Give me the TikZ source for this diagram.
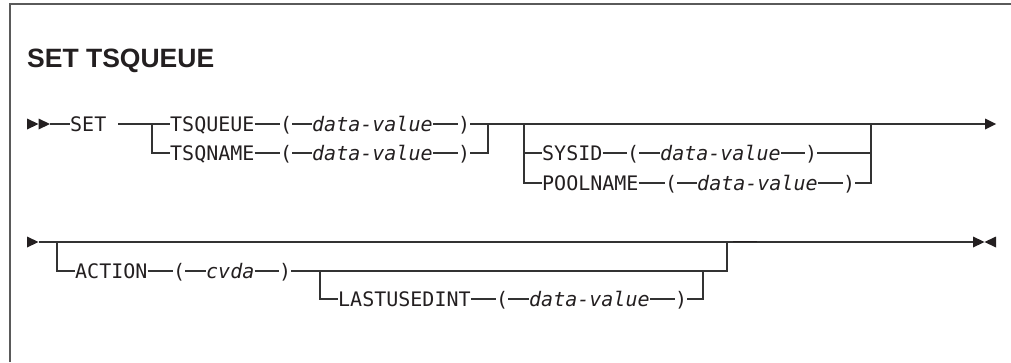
\documentclass[tikz,border=0pt]{standalone}
\usepackage{fontspec}
\setmainfont{Liberation Sans}
\newfontfamily\diagfont{DejaVu Sans Mono}
\definecolor{linecol}{HTML}{333333}
\definecolor{framecol}{HTML}{5A5A5A}
\definecolor{txtcol}{HTML}{231F20}
\begin{document}
\begin{tikzpicture}[x=1pt,y=-1pt,
  kw/.style={inner sep=0pt, anchor=west, text=txtcol,
    font=\diagfont\fontsize{20}{21}\selectfont, text height=14.6pt, text depth=0pt},
  var/.style={kw, font=\diagfont\itshape\fontsize{20}{21}\selectfont},
  ln/.style={draw=linecol, line width=1.2pt},
  tip/.style={fill=txtcol},
  titlestyle/.style={inner sep=0pt, anchor=base west, text=txtcol,
    font=\bfseries\fontsize{26.5}{29}\selectfont}]
\useasboundingbox (0,0) rectangle (1011,362);
% frame
\draw[framecol, line width=2pt] (10,362) -- (10,4) -- (1011,4);
% title
\node[titlestyle] (title) at (27,67) {SET TSQUEUE};

% ---------- row A ----------
\coordinate (a0) at (50,124);
\fill[tip] (27,118.5) -- (38.5,124) -- (27,129.5) -- cycle;
\fill[tip] (38.5,118.5) -- (50,124) -- (38.5,129.5) -- cycle;
\node[kw] (set) at (70,124) {SET};
\coordinate (a1) at (118,124);
\coordinate (b1) at (152,124);
\coordinate (b1d) at (152,153);
\node[kw] (tsq) at (170,124) {TSQUEUE};
\node[kw] (lp1) at (280,124) {(};
\node[var] (dv1) at (312,124) {data-value};
\node[kw] (rp1) at (458,124) {)};
\node[kw] (tsn) at (170,153) {TSQNAME};
\node[kw] (lp2) at (280,153) {(};
\node[var] (dv2) at (312,153) {data-value};
\node[kw] (rp2) at (458,153) {)};
\coordinate (j1) at (488,124);
\coordinate (j1d) at (488,153);
\coordinate (b2) at (524,124);
\coordinate (b2d) at (524,183);
\node[kw] (sys) at (542,153) {SYSID};
\node[kw] (lp3) at (627,153) {(};
\node[var] (dv3) at (660,153) {data-value};
\node[kw] (rp3) at (805,153) {)};
\node[kw] (pool) at (542,183) {POOLNAME};
\node[kw] (lp4) at (665,183) {(};
\node[var] (dv4) at (697,183) {data-value};
\node[kw] (rp4) at (843,183) {)};
\coordinate (j2) at (871,124);
\coordinate (j2s) at (871,153);
\coordinate (j2d) at (871,183);
\coordinate (endA) at (985,124);
\fill[tip] (985,118.5) -- (996,124) -- (985,129.5) -- cycle;

\draw[ln] (a0) -- (set.west);
\draw[ln] (a1) -- (b1) -- (tsq.west);
\draw[ln] (b1) -- (b1d) -- (tsn.west);
\draw[ln] (tsq.east) -- (lp1.west);
\draw[ln] (lp1.east) -- (dv1.west);
\draw[ln] (dv1.east) -- (rp1.west);
\draw[ln] (rp1.east) -- (j1);
\draw[ln] (tsn.east) -- (lp2.west);
\draw[ln] (lp2.east) -- (dv2.west);
\draw[ln] (dv2.east) -- (rp2.west);
\draw[ln] (rp2.east) -- (j1d) -- (j1);
\draw[ln] (j1) -- (endA);
\draw[ln] (b2) -- (b2d) -- (pool.west);
\draw[ln] (sys.west -| b2) -- (sys.west);
\draw[ln] (sys.east) -- (lp3.west);
\draw[ln] (lp3.east) -- (dv3.west);
\draw[ln] (dv3.east) -- (rp3.west);
\draw[ln] (rp3.east) -- (j2s);
\draw[ln] (pool.east) -- (lp4.west);
\draw[ln] (lp4.east) -- (dv4.west);
\draw[ln] (dv4.east) -- (rp4.west);
\draw[ln] (rp4.east) -- (j2d) -- (j2);

% ---------- row B ----------
\fill[tip] (27,236.5) -- (38.5,242) -- (27,247.5) -- cycle;
\coordinate (c0) at (38.5,242);
\coordinate (c1) at (57,242);
\coordinate (c1d) at (57,271);
\node[kw] (act) at (75,271) {ACTION};
\node[kw] (lp5) at (173,271) {(};
\node[var] (cv) at (206,271) {cvda};
\node[kw] (rp5) at (279,271) {)};
\coordinate (c2) at (320,271);
\coordinate (c2d) at (320,299);
\node[kw] (last) at (338,299) {LASTUSEDINT};
\node[kw] (lp6) at (496,299) {(};
\node[var] (dv6) at (529,299) {data-value};
\node[kw] (rp6) at (675,299) {)};
\coordinate (j3) at (703,271);
\coordinate (j3d) at (703,299);
\coordinate (j4) at (727,242);
\coordinate (j4d) at (727,271);
\coordinate (endB) at (973,242);
\fill[tip] (973,236.5) -- (984.5,242) -- (973,247.5) -- cycle;
\fill[tip] (996,236.5) -- (984.5,242) -- (996,247.5) -- cycle;

\draw[ln] (c0) -- (endB);
\draw[ln] (c1) -- (c1d) -- (act.west);
\draw[ln] (act.east) -- (lp5.west);
\draw[ln] (lp5.east) -- (cv.west);
\draw[ln] (cv.east) -- (rp5.west);
\draw[ln] (rp5.east) -- (j4d) -- (j4);
\draw[ln] (c2) -- (c2d) -- (last.west);
\draw[ln] (last.east) -- (lp6.west);
\draw[ln] (lp6.east) -- (dv6.west);
\draw[ln] (dv6.east) -- (rp6.west);
\draw[ln] (rp6.east) -- (j3d) -- (j3);
\draw[draw=txtcol, line width=1.4pt] (733,241.6) -- (757,241.6);
\end{tikzpicture}
\end{document}
